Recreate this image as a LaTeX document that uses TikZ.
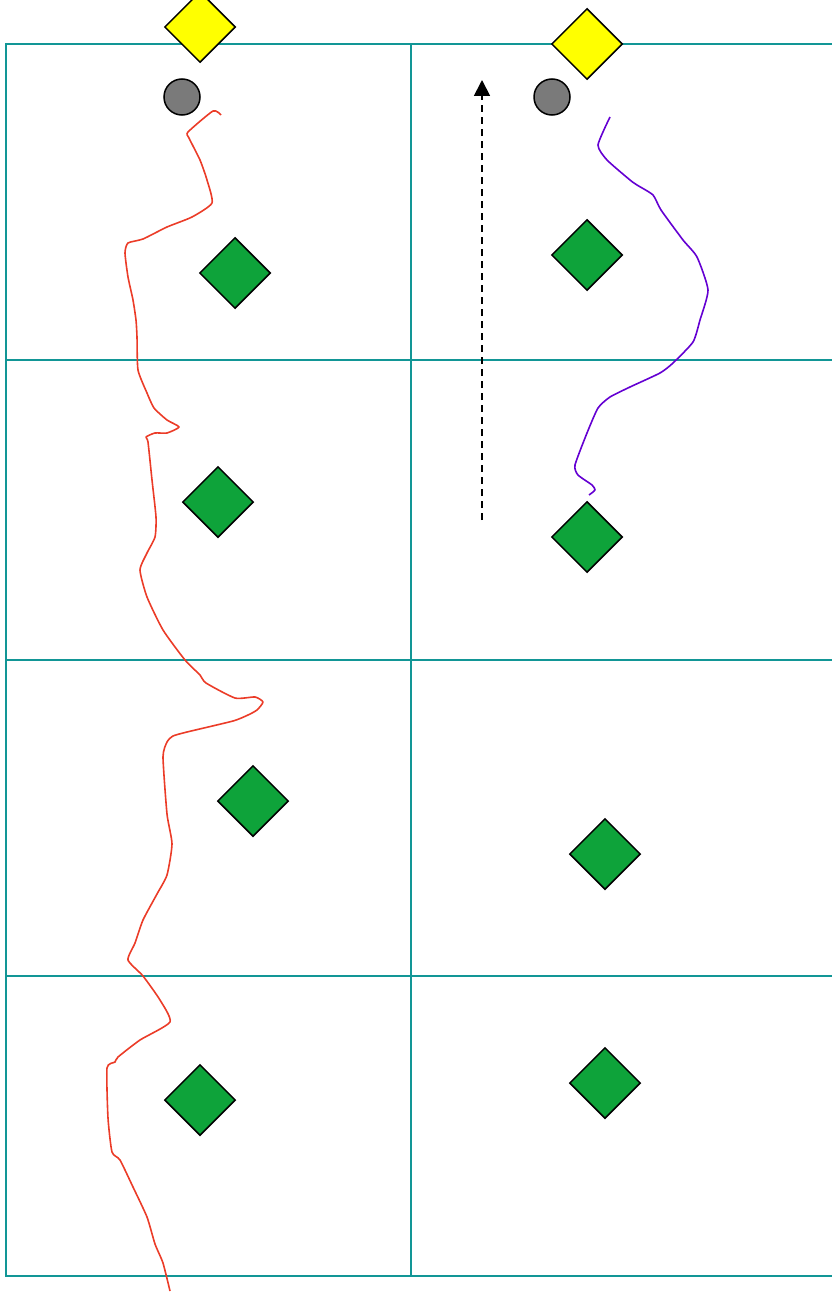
\documentclass[tikz,border=0pt]{standalone}
\usetikzlibrary{shapes.geometric,arrows.meta}
\definecolor{gridteal}{RGB}{18,150,150}
\definecolor{stoneyellow}{RGB}{255,255,0}
\definecolor{stonegreen}{RGB}{14,163,58}
\definecolor{ballgray}{RGB}{122,122,122}
\definecolor{pathred}{RGB}{235,60,40}
\definecolor{pathpurple}{RGB}{100,0,210}
\tikzset{
  cellline/.style={draw=gridteal,line width=1.5pt},
  outerline/.style={draw=gridteal,line width=2.2pt},
  diam/.style={shape=diamond,draw=black,line width=1.5pt,minimum width=71pt,minimum height=71pt,inner sep=0pt},
  ydiam/.style={diam,fill=stoneyellow},
  gdiam/.style={diam,fill=stonegreen},
  ball/.style={circle,draw=black,line width=1.5pt,fill=ballgray,minimum size=36pt,inner sep=0pt},
  redpath/.style={draw=pathred,line width=1.6pt,line join=round},
  purplepath/.style={draw=pathpurple,line width=1.6pt,line join=round},
  dasharrow/.style={draw=black,line width=1.8pt,dash pattern=on 7pt off 5pt,-{Triangle[length=16pt,width=16pt]}}
}
\begin{document}
\begin{tikzpicture}[x=1pt,y=-1pt]
\useasboundingbox (0,0) rectangle (832,1295);
\begin{scope}
\clip (0,0) rectangle (832,1295);
% grid
\draw[cellline] (411,44) -- (411,1276);
\draw[cellline] (6,360) -- (845,360);
\draw[cellline] (6,660) -- (845,660);
\draw[cellline] (6,976) -- (845,976);
\draw[outerline] (6,44) rectangle (845,1276);
\end{scope}
% red path
\draw[redpath] plot[smooth,tension=0.35] coordinates {
(221,115) (213,111) (188,132) (189,138) (200,160) (207,180) (212,203) (192,217) (167,227) (143,239) (128,243) (125,253) (128,277) (133,300) (136,320) (137,337) (138,370) (147,393) (154,408) (167,420) (179,427) (167,433) (155,433) (146,437) (148,442) (152,480) (156,517) (155,537) (147,553) (140,570) (147,597) (163,630) (185,660) (200,675) (206,683) (235,698) (255,697) (263,702) (257,710) (248,715) (233,721) (187,732) (173,736) (167,742) (163,757) (167,814) (172,844) (167,875) (157,894) (143,920) (135,943) (128,960) (143,976) (160,1000) (170,1022) (140,1040) (118,1057) (115,1062) (107,1068) (108,1118) (112,1152) (120,1160) (133,1187) (147,1217) (155,1244) (163,1263) (170,1291)};
% purple path
\draw[purplepath] plot[smooth,tension=0.35] coordinates {
(610,117) (598,145) (607,160) (630,180) (637,185) (653,195) (661,210) (683,240) (697,257) (708,290) (700,320) (693,342) (673,363) (660,373) (630,387) (610,397) (598,408) (587,433) (575,465) (578,475) (592,485) (595,490) (589,495)};
% dashed arrow
\coordinate (arrowstart) at (482,520);
\coordinate (arrowend) at (482,80);
\draw[dasharrow] (arrowstart) -- (arrowend);
% balls
\node[ball] (ballL) at (182,97) {};
\node[ball] (ballR) at (552,97) {};
% yellow diamonds
\node[ydiam] (yL) at (200,27) {};
\node[ydiam] (yR) at (587,44) {};
% green diamonds left
\node[gdiam] (gL1) at (235,273) {};
\node[gdiam] (gL2) at (218,502) {};
\node[gdiam] (gL3) at (253,801) {};
\node[gdiam] (gL4) at (200,1100) {};
% green diamonds right
\node[gdiam] (gR1) at (587,255) {};
\node[gdiam] (gR2) at (587,537) {};
\node[gdiam] (gR3) at (605,854) {};
\node[gdiam] (gR4) at (605,1083) {};
\end{tikzpicture}
\end{document}
